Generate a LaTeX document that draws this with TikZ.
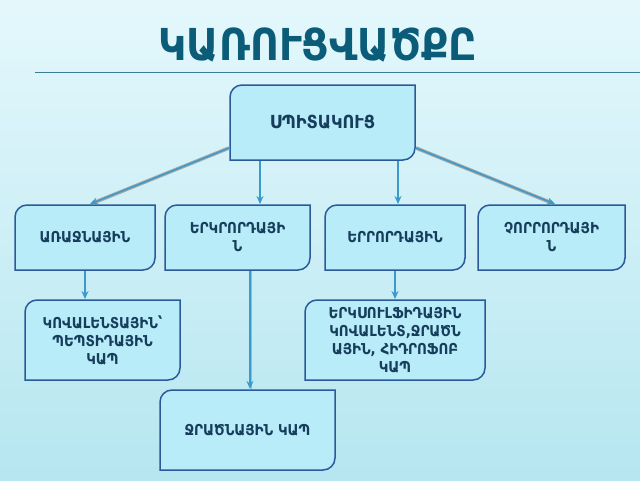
\documentclass[tikz,border=0pt]{standalone}
\usepackage{fontspec}
\usetikzlibrary{arrows.meta}
\setmainfont{DejaVu Sans}
\newfontfamily\armb{DejaVu Sans Condensed Bold}
\definecolor{bgA}{HTML}{E4F8FC}
\definecolor{bgB}{HTML}{B6E6F0}
\definecolor{boxfill}{HTML}{B8ECF8}
\definecolor{boxline}{HTML}{2A5A9A}
\definecolor{titlec}{HTML}{0B5C78}
\definecolor{txtc}{HTML}{173D5C}
\definecolor{arrc}{HTML}{3A9ACC}
\tikzset{
  lbl/.style={align=center,text=txtc,font=\armb\fontsize{15}{18}\selectfont},
  conn/.style={draw=arrc,line width=1.5pt,-{Stealth[length=8pt,width=7pt]}},
  conng/.style={draw=gray!70,line width=3.5pt}
}
\newcommand{\obox}[6]{% name, x1,y1,x2,y2, text
  \fill[boxfill] (#2+12,#3) -- (#4,#3) -- (#4,#5-12) to[out=-90,in=0] (#4-12,#5) -- (#2,#5) -- (#2,#3+12) to[out=90,in=180] cycle;
  \draw[boxline,line width=1.5pt] (#2+12,#3) -- (#4,#3) -- (#4,#5-12) to[out=-90,in=0] (#4-12,#5) -- (#2,#5) -- (#2,#3+12) to[out=90,in=180] cycle;
  \node[lbl] (#1) at ({(#2+#4)/2},{(#3+#5)/2}) {#6};
}
\begin{document}
\begin{tikzpicture}[x=1pt,y=-1pt]
\useasboundingbox (0,0) rectangle (640,480);
\shade[top color=bgA,bottom color=bgB] (0,0) rectangle (640,480);
\node[text=titlec,font=\armb\fontsize{44}{48}\selectfont] (title) at (318,45) {ԿԱՌՈՒՑՎԱԾՔԸ};
\draw[titlec!80,line width=1pt] (35,72) -- (640,72);
\obox{top}{230}{85}{415}{160}{\fontsize{18}{20}\selectfont ՍՊԻՏԱԿՈՒՑ}
\obox{a}{15}{205}{155}{270}{ԱՌԱՋՆԱՅԻՆ}
\obox{b}{165}{205}{310}{270}{ԵՐԿՐՈՐԴԱՅԻ\\Ն}
\obox{c}{325}{205}{465}{270}{ԵՐՐՈՐԴԱՅԻՆ}
\obox{d}{478}{205}{625}{270}{ՉՈՐՐՈՐԴԱՅԻ\\Ն}
\obox{e}{25}{300}{180}{380}{ԿՈՎԱԼԵՆՏԱՅԻՆ՝\\ՊԵՊՏԻԴԱՅԻՆ\\ԿԱՊ}
\obox{f}{305}{300}{485}{380}{ԵՐԿՍՈՒԼՖԻԴԱՅԻՆ\\ԿՈՎԱԼԵՆՏ,ՋՐԱԾՆ\\ԱՅԻՆ, ՀԻԴՐՈՖՈԲ\\ԿԱՊ}
\obox{g}{160}{390}{335}{470}{ՋՐԱԾՆԱՅԻՆ ԿԱՊ}
\coordinate (tl) at (229,148); \coordinate (tr) at (416,148);
\coordinate (ta) at (90,204); \coordinate (td) at (555,204);
\draw[conng] (tl) -- ([shift={(3,-1)}]ta); \draw[conng] (tr) -- ([shift={(-3,-1)}]td);
\draw[conn] (tl) -- (ta); \draw[conn] (tr) -- (td);
\coordinate (t1) at (260,161); \coordinate (t2) at (398,161);
\coordinate (b1) at (260,204); \coordinate (c1) at (398,204);
\draw[conn] (t1) -- (b1); \draw[conn] (t2) -- (c1);
\coordinate (as) at (85,271); \coordinate (en) at (85,299);
\draw[conn] (as) -- (en);
\coordinate (bs) at (250,271); \coordinate (gn) at (250,389);
\draw[gray!60,line width=1pt] ([xshift=1.8pt]bs) -- ([xshift=1.8pt]gn);
\draw[conn] (bs) -- (gn);
\coordinate (cs) at (395,271); \coordinate (fn) at (395,299);
\draw[conn] (cs) -- (fn);
\end{tikzpicture}
\end{document}
